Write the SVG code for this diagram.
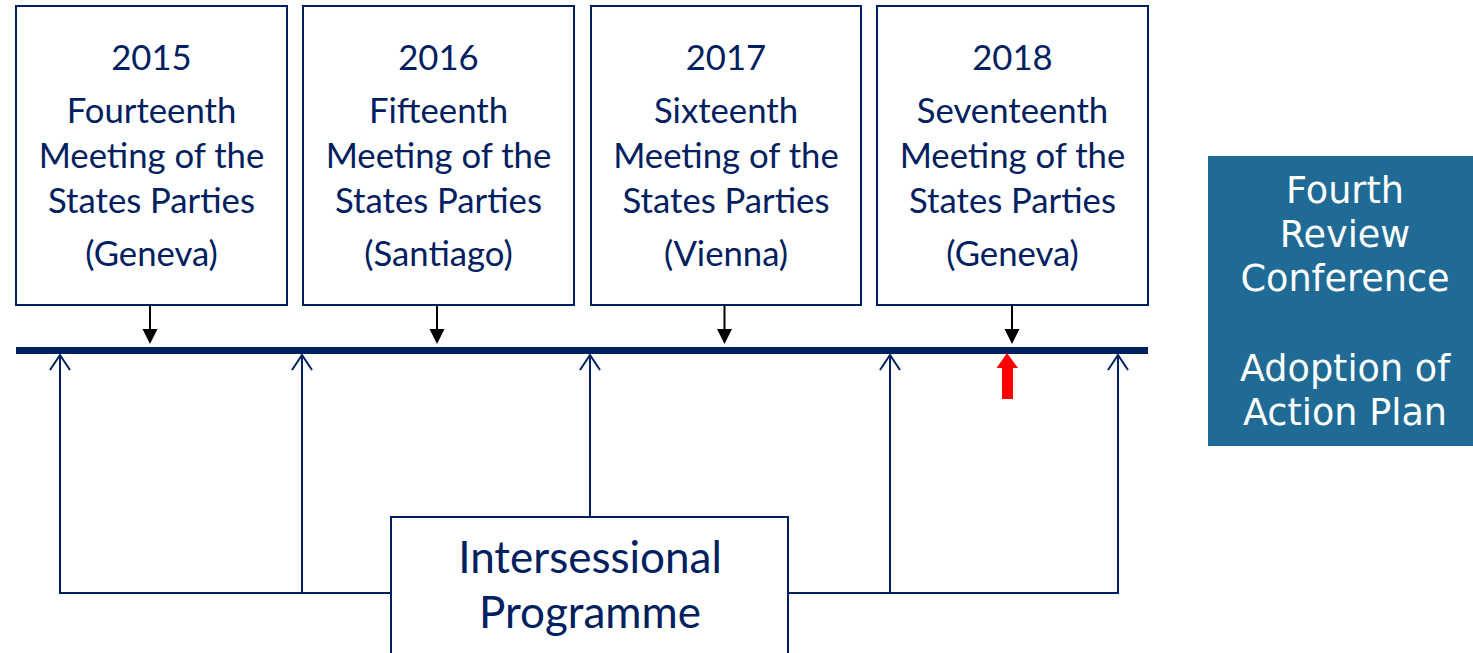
<svg xmlns="http://www.w3.org/2000/svg" width="1473" height="653" viewBox="0 0 1473 653">
  <style>
    .box { fill: #ffffff; stroke: #002060; stroke-width: 2; }
    .lbl { font-family: Lato, "Open Sans", "Liberation Sans", sans-serif; fill: #002060; text-anchor: middle; }
    .mtg { font-size: 34.7px; }
    .prog { font-size: 44px; }
    .rc { font-family: "DejaVu Sans", Verdana, sans-serif; font-size: 36.6px; fill: #ffffff; text-anchor: middle; }
    .feed { stroke: #000000; stroke-width: 2; fill: none; }
    .link { stroke: #002060; stroke-width: 2; fill: none; }
  </style>
  <defs>
    <marker id="headDown" markerUnits="userSpaceOnUse" markerWidth="16" markerHeight="16" refX="0" refY="7.5" orient="auto" overflow="visible">
      <path d="M0,0 L15,7.5 L0,15 z" fill="#000000"/>
    </marker>
    <marker id="headOpen" markerUnits="userSpaceOnUse" markerWidth="18" markerHeight="22" refX="16" refY="10" orient="auto" overflow="visible">
      <path d="M1,0 L16,10 L1,20" fill="none" stroke="#002060" stroke-width="2"/>
    </marker>
  </defs>

  <rect width="1473" height="653" fill="#ffffff"/>

  <!-- meetings of the States Parties -->
  <g id="msp14">
    <rect class="box" x="16" y="6" width="271" height="299"/>
    <text class="lbl mtg" x="151.5" y="70">2015</text>
    <text class="lbl mtg" x="151.5" y="123">Fourteenth</text>
    <text class="lbl mtg" x="151.5" y="168">Meeting of the</text>
    <text class="lbl mtg" x="151.5" y="213">States Parties</text>
    <text class="lbl mtg" x="151.5" y="266">(Geneva)</text>
  </g>
  <g id="msp15">
    <rect class="box" x="303" y="6" width="271" height="299"/>
    <text class="lbl mtg" x="438.5" y="70">2016</text>
    <text class="lbl mtg" x="438.5" y="123">Fifteenth</text>
    <text class="lbl mtg" x="438.5" y="168">Meeting of the</text>
    <text class="lbl mtg" x="438.5" y="213">States Parties</text>
    <text class="lbl mtg" x="438.5" y="266">(Santiago)</text>
  </g>
  <g id="msp16">
    <rect class="box" x="591" y="6" width="270" height="299"/>
    <text class="lbl mtg" x="726" y="70">2017</text>
    <text class="lbl mtg" x="726" y="123">Sixteenth</text>
    <text class="lbl mtg" x="726" y="168">Meeting of the</text>
    <text class="lbl mtg" x="726" y="213">States Parties</text>
    <text class="lbl mtg" x="726" y="266">(Vienna)</text>
  </g>
  <g id="msp17">
    <rect class="box" x="877" y="6" width="271" height="299"/>
    <text class="lbl mtg" x="1012.5" y="70">2018</text>
    <text class="lbl mtg" x="1012.5" y="123">Seventeenth</text>
    <text class="lbl mtg" x="1012.5" y="168">Meeting of the</text>
    <text class="lbl mtg" x="1012.5" y="213">States Parties</text>
    <text class="lbl mtg" x="1012.5" y="266">(Geneva)</text>
  </g>

  <!-- timeline -->
  <g id="timeline">
    <rect x="16" y="347" width="1132" height="7" fill="#002060"/>
  </g>

  <!-- intersessional programme -->
  <g id="isp">
    <rect class="box" x="391" y="517" width="397" height="150"/>
    <text class="lbl prog" x="590" y="573">Intersessional</text>
    <text class="lbl prog" x="590" y="628">Programme</text>
  </g>

  <!-- review conference -->
  <g id="revcon">
    <rect x="1208" y="156" width="275" height="290" fill="#1f6b95"/>
    <text class="rc" x="1345" y="203">Fourth</text>
    <text class="rc" x="1345" y="247">Review</text>
    <text class="rc" x="1345" y="291">Conference</text>
    <text class="rc" x="1345" y="381">Adoption of</text>
    <text class="rc" x="1345" y="425">Action Plan</text>
  </g>

  <!-- connectors -->
  <g id="connectors">
    <path class="feed" d="M150,305 V329" marker-end="url(#headDown)"/>
    <path class="feed" d="M437,305 V329" marker-end="url(#headDown)"/>
    <path class="feed" d="M724.5,305 V329" marker-end="url(#headDown)"/>
    <path class="feed" d="M1012,305 V329" marker-end="url(#headDown)"/>

    <path class="link" d="M391,593 H60 V355" marker-end="url(#headOpen)"/>
    <path class="link" d="M302,593 V355" marker-end="url(#headOpen)"/>
    <path class="link" d="M590,517 V355" marker-end="url(#headOpen)"/>
    <path class="link" d="M788,593 H1118 V355" marker-end="url(#headOpen)"/>
    <path class="link" d="M890,593 V355" marker-end="url(#headOpen)"/>

    <!-- current position marker -->
    <polygon points="1007,353 1018,368 1013,368 1013,399 1002,399 1002,368 996.5,368" fill="#ff0000"/>
  </g>
</svg>
